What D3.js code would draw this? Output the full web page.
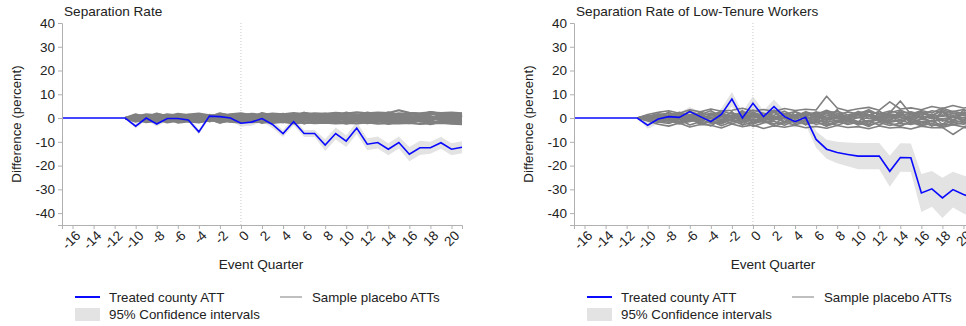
<!DOCTYPE html>
<html>
<head>
<meta charset="utf-8">
<script src="https://cdn.jsdelivr.net/npm/d3@7"></script>
<style>
  body { margin: 0; background: #fff; }
  svg { display: block; font-family: "Liberation Sans", Arial, sans-serif; }
</style>
</head>
<body>
<div id="chart"></div>
<script>
// event quarters shown on the x axis
const quarters = [-17,-16,-15,-14,-13,-12,-11,-10,-9,-8,-7,-6,-5,-4,-3,-2,-1,0,1,2,3,4,5,6,7,8,9,10,11,12,13,14,15,16,17,18,19,20,21];
const placeboQuarters = [-11,-10,-9,-8,-7,-6,-5,-4,-3,-2,-1,0,1,2,3,4,5,6,7,8,9,10,11,12,13,14,15,16,17,18,19,20,21];
const xTicks = [-16,-14,-12,-10,-8,-6,-4,-2,0,2,4,6,8,10,12,14,16,18,20];
const yTicks = [40,30,20,10,0,-10,-20,-30,-40];

// left panel: separation rate
const attLeft = [0,0,0,0,0,0,0, -3.4,0,-2.5,-0.2,-0.2,-0.8,-5.8,0.8,0.6,0,
  -2.2,-1.7,-0.2,-2.7,-6.5,-1.5,-6.5,-6.5,-11.4,-6.5,-9.7,-4.2,-11,-10.3,-13.1,-10.3,-15.2,-12.5,-12.5,-10.4,-13.1,-12.3];
const ciLeft = [0,0,0,0,0,0,0, 1,1,1,1,1,1,1,1,1,1,
  1.5,1.5,1.5,1.5,1.5,1.5,1.5,1.5, 2.5,2.5,2.5,2.5,2.5,2.5,2.5,2.5,3,3,2.5,2.5,2.5,2.5];
const placeboLeft = [
  [0,0.8,1.2,0.5,1.6,1.0,0.4,1.3,0.9,1.5,0.6,1.1,1.8,1.4,1.9,1.6,2.1,1.7,2.0,1.8,2.2,1.9,2.4,2.0,2.3,2.1,3.3,2.2,2.0,2.4,2.1,2.3,2.0],
  [0,-0.9,-1.4,-0.6,-1.8,-1.1,-0.5,-1.6,-1.0,-1.3,-0.7,-1.2,-1.7,-1.5,-2.0,-1.6,-2.2,-1.8,-2.1,-1.9,-2.3,-2.0,-2.2,-1.8,-2.4,-2.1,-2.3,-2.0,-2.5,-2.2,-2.0,-2.4,-2.6],
  [0,0.3,-0.5,1.0,0.2,-0.8,1.2,0.4,-0.3,0.9,1.4,0.2,-0.6,1.1,0.5,-0.9,1.3,0.7,-0.4,1.5,0.3,-1.0,1.2,0.6,-0.5,1.7,0.2,-0.8,1.4,0.8,-0.3,1.1,0.5],
  [0,-0.4,0.7,-1.1,-0.2,0.9,-1.3,-0.5,0.6,-0.9,-1.5,0.4,0.9,-1.2,-0.3,1.0,-1.4,-0.6,0.8,-1.6,-0.2,1.2,-1.3,-0.7,0.9,-1.7,-0.4,1.0,-1.5,-0.9,0.6,-1.2,-0.8],
  [0,1.3,0.6,1.7,0.9,0.3,1.5,1.9,1.1,0.5,1.6,2.0,1.2,0.8,1.7,1.3,0.9,2.2,1.4,1.0,1.8,1.5,1.1,2.3,1.6,1.2,2.0,1.7,1.3,2.5,1.8,1.4,1.9],
  [0,-1.2,-0.3,-1.6,-0.8,-0.2,-1.4,-1.8,-0.9,-0.4,-1.5,-1.9,-1.0,-0.6,-1.6,-1.2,-0.7,-2.1,-1.3,-0.8,-1.8,-1.4,-0.9,-2.2,-1.5,-1.0,-1.9,-1.6,-1.1,-2.3,-1.7,-1.2,-1.8],
  [0,0.1,0.9,0.4,-0.6,0.7,0.2,-0.4,1.1,0.3,-0.2,0.8,0.5,0.1,0.7,0.9,0.3,0.6,1.0,0.2,0.8,0.4,0.9,0.1,0.7,1.1,0.3,0.8,0.5,0.2,0.9,0.6,0.3],
  [0,-0.2,-1.0,-0.3,0.4,-0.7,-0.1,0.3,-1.1,-0.2,0.2,-0.8,-0.4,-0.1,-0.6,-0.9,-0.2,-0.5,-1.0,-0.3,-0.7,-0.4,-0.9,-0.2,-0.6,-1.0,-0.3,-0.8,-0.5,-0.2,-0.9,-0.6,-0.4],
  [0,0.5,1.6,1.1,0.7,1.8,1.3,0.9,0.6,1.7,1.2,0.8,1.5,1.0,1.3,0.9,1.6,1.2,0.8,1.4,1.1,1.7,1.3,1.0,1.5,1.2,0.9,1.6,1.3,1.7,1.2,1.5,1.0],
  [0,-0.6,-1.7,-1.2,-0.5,-1.9,-1.4,-0.8,-0.4,-1.8,-1.1,-0.7,-1.4,-1.0,-1.3,-0.8,-1.5,-1.1,-0.9,-1.4,-1.2,-1.6,-1.0,-1.3,-1.5,-1.1,-0.8,-1.6,-1.2,-1.8,-1.3,-1.5,-1.9],
  [0,0.0,0.3,-0.2,0.6,0.1,-0.4,0.5,0.0,-0.3,0.4,-0.1,0.2,0.4,-0.2,0.3,0.0,0.5,-0.1,0.2,0.4,-0.3,0.1,0.3,-0.2,0.4,0.1,-0.1,0.3,0.5,0.0,0.2,-0.3],
  [0,0.9,-0.8,1.4,-1.2,0.6,-0.5,1.0,-1.4,0.7,0.2,-1.0,1.1,-0.3,0.5,-0.7,1.2,-0.9,0.4,-0.2,1.0,-1.1,0.6,-0.4,1.3,-0.6,0.3,-1.2,0.8,-0.1,1.4,-0.8,0.9],
  [0,1.6,0.2,1.9,0.6,1.4,-0.2,1.7,0.4,2.0,0.9,1.5,0.3,2.1,1.0,1.8,0.5,2.2,1.2,1.9,0.7,2.3,1.4,1.8,0.9,2.4,1.3,2.0,1.0,2.5,1.5,2.1,1.6],
  [0,-1.5,-0.1,-1.9,-0.7,-1.3,0.1,-1.7,-0.5,-2.0,-0.8,-1.4,-0.3,-2.1,-1.1,-1.7,-0.6,-2.3,-1.2,-1.8,-0.8,-2.4,-1.3,-1.9,-1.0,-2.5,-1.4,-2.1,-1.1,-2.6,-1.5,-2.2,-1.7],
  [0,0.6,-0.2,0.8,0.3,-0.4,0.9,0.1,-0.5,0.7,0.2,0.9,-0.3,0.6,0.1,-0.6,0.8,0.3,-0.2,0.7,-0.5,0.6,0.0,-0.4,0.8,0.2,-0.6,0.5,0.1,-0.3,0.7,-0.1,0.4],
  [0,-1.1,1.0,-0.7,1.2,-1.3,0.5,-1.0,1.3,-0.8,0.6,-1.2,1.1,-0.5,0.9,-1.4,0.4,-0.9,1.2,-1.1,0.7,-0.6,1.4,-1.3,0.3,-1.0,1.5,-0.7,0.6,-1.5,1.0,-0.4,1.2]
];

// right panel: low-tenure workers
const attRight = [0,0,0,0,0,0,0, -3,-0.4,0.6,0.3,2.7,0.6,-1.5,1.5,8,0,
  6.2,0.6,4.8,0.6,-1.5,0.3,-9,-13.1,-14.5,-15.3,-16,-16,-16,-22.4,-16.6,-16.7,-31.5,-29.8,-33.6,-30.1,-32.2,-33.6];
const ciRight = [0,0,0,0,0,0,0, 1.5,2,2,2,2,2,2,2.5,3,2.5,
  3,2.5,3,2.5,2.5,3, 3.5,4,4.5,5,5.5,5.5,5.5,6.5,6,6,8,7.5,8.5,7.5,8,8];
const placeboRight = [
  [0,1.5,2.4,3.1,2.0,3.5,2.6,3.8,2.9,3.3,4.1,3.0,3.6,2.8,4.0,3.2,3.7,3.4,9.2,4.2,3.1,3.9,4.5,3.3,6.8,3.8,4.3,3.5,4.9,4.0,5.3,4.2,4.7],
  [0,-1.2,-2.6,-3.4,-2.1,-3.8,-2.7,-3.0,-4.2,-2.5,-3.6,-2.9,-4.4,-3.2,-3.9,-3.0,-4.1,-3.5,-4.3,-3.1,-4.0,-3.6,-4.5,-3.3,-4.2,-3.8,-4.6,-3.4,-4.1,-3.9,-6.9,-4.0,-4.4],
  [0,0.6,1.8,0.9,2.4,1.3,0.7,2.1,1.5,0.8,2.6,1.9,1.1,2.3,1.6,2.8,1.2,2.5,1.9,2.9,1.4,2.2,2.7,1.8,3.0,2.0,2.6,1.5,3.1,2.3,2.8,1.9,2.5],
  [0,-0.8,-1.9,-1.0,-2.5,-1.4,-0.6,-2.2,-1.7,-0.9,-2.8,-2.0,-1.2,-2.4,-1.8,-2.9,-1.3,-2.6,-2.0,-3.0,-1.5,-2.3,-2.8,-1.9,-3.1,-2.1,-2.7,-1.6,-3.2,-2.4,-2.9,-2.0,-2.6],
  [0,0.2,-0.9,1.4,-0.3,0.8,-1.2,1.6,0.1,-0.7,3.2,-1.8,0.9,-0.5,1.3,-0.2,0.6,-1.0,1.1,0.3,-0.8,1.5,0.0,-0.6,1.2,0.4,-1.1,0.9,-0.3,1.4,0.2,-0.9,0.7],
  [0,-0.4,1.1,-1.3,0.5,-0.9,1.5,-0.2,-1.4,0.9,-0.6,1.2,-1.0,0.4,-1.5,0.8,-0.3,1.3,-0.8,0.6,-1.2,0.2,1.0,-1.4,0.5,-0.7,1.4,-0.2,0.9,-1.3,0.6,-0.5,1.1],
  [0,1.0,0.3,2.2,1.2,-0.2,2.6,0.9,3.0,1.7,0.4,2.4,1.0,3.3,1.8,0.7,2.6,1.3,3.1,2.0,0.8,2.8,1.5,0.6,2.2,3.4,1.4,2.7,0.9,3.6,1.9,2.4,1.2],
  [0,-1.0,-0.2,-2.0,-1.3,0.2,-2.7,-1.1,-3.2,-1.6,-0.5,-2.5,-1.1,-3.4,-1.9,-0.8,-2.7,-1.4,-3.3,-2.0,-0.9,-2.9,-1.6,-0.7,-2.3,-3.5,-1.5,-2.8,-1.0,-3.7,-2.0,-2.6,-1.4],
  [0,0.4,0.9,-0.3,1.7,0.5,-0.1,1.0,2.0,0.3,-0.4,0.8,1.9,0.6,0.1,1.4,0.7,2.2,0.2,1.1,0.5,1.8,0.9,0.3,1.5,0.8,2.1,0.4,1.2,0.7,1.9,1.0,0.6],
  [0,-0.3,-1.1,0.4,-1.6,-0.6,0.2,-1.2,-2.1,-0.4,0.5,-0.9,-1.8,-0.7,-0.1,-1.5,-0.8,-2.0,-0.3,-1.2,-0.6,-1.9,-1.0,-0.4,-1.6,-0.9,-2.2,-0.5,-1.3,-0.8,-2.0,-1.1,-0.7],
  [0,0.9,1.5,2.0,0.7,2.8,1.4,3.1,0.6,2.2,1.0,3.4,2.0,1.2,2.9,0.8,2.4,1.5,3.3,1.1,2.6,1.7,3.5,1.3,2.3,7.2,1.6,3.2,2.1,4.2,2.7,3.6,2.2],
  [0,-0.7,-1.6,-2.3,-0.5,-2.9,-1.5,-3.3,-0.6,-2.4,-1.1,-3.5,-2.1,-1.3,-3.0,-0.9,-2.5,-1.6,-3.4,-1.2,-2.7,-1.8,-3.6,-1.4,-2.4,-3.1,-1.7,-3.3,-2.2,-4.0,-2.8,-3.7,-2.3],
  [0,0.1,0.5,0.0,-0.4,0.6,0.2,-0.3,0.7,-0.1,0.4,0.0,0.5,-0.2,0.3,0.6,-0.1,0.4,0.1,-0.3,0.5,0.2,-0.2,0.6,0.0,0.3,-0.1,0.5,0.2,-0.3,0.4,0.1,0.0],
  [0,1.2,-0.5,2.6,-1.8,3.4,-2.4,1.9,-0.9,2.8,-3.0,1.5,-1.6,3.2,-2.2,0.7,-2.9,2.5,-1.3,3.6,-2.6,1.2,-3.1,2.9,-1.0,3.3,-2.5,1.8,-3.4,2.7,-1.9,3.5,-2.8],
  [0,0.5,1.2,-0.6,2.0,0.9,-1.0,1.6,2.4,0.2,-0.8,1.8,0.7,2.6,-0.4,1.3,2.1,0.0,2.8,1.1,-0.6,2.2,1.0,2.9,0.4,1.7,-0.3,2.5,1.2,3.0,0.6,1.9,0.8],
  [0,-0.6,-1.3,0.5,-2.1,-1.0,0.8,-1.7,-2.5,-0.3,0.9,-1.9,-0.8,-2.7,0.3,-1.4,-2.2,0.1,-2.9,-1.2,0.5,-2.3,-1.1,-3.0,-0.5,-1.8,0.2,-2.6,-1.3,-3.1,-0.7,-2.0,-0.9],
  [0,1.0,-1.5,0.6,1.9,-0.7,2.3,-1.6,0.8,1.2,-2.0,2.5,-0.4,0.9,-1.7,2.7,-0.9,1.5,-2.2,2.0,0.4,-1.8,2.8,-0.6,1.4,-2.4,2.2,0.3,-1.5,2.9,-1.0,1.6,-2.0],
  [0,-0.9,1.4,-0.5,-1.8,0.8,-2.2,1.5,-0.7,-1.1,2.1,-2.4,0.5,-0.8,1.8,-2.6,1.0,-1.4,2.3,-1.9,-0.3,1.9,-2.7,0.7,-1.3,2.5,-2.1,-0.2,1.6,-2.8,1.1,-1.5,2.1],
  [0,0.3,0.8,1.1,0.4,1.5,0.9,0.2,1.3,0.7,1.6,0.5,1.1,0.3,1.7,0.9,1.4,0.6,1.9,1.0,0.4,1.6,1.2,0.7,1.8,1.1,0.5,1.7,1.3,0.8,2.0,1.2,1.5],
  [0,-0.2,-0.7,-1.0,-0.3,-1.4,-0.8,-0.1,-1.2,-0.6,-1.5,-0.4,-1.0,-0.2,-1.6,-0.8,-1.3,-0.5,-1.8,-0.9,-0.3,-1.5,-1.1,-0.6,-1.7,-1.0,-0.4,-1.6,-1.2,-0.7,-1.9,-1.1,-1.4]
];

const W = 966, H = 326;
const svg = d3.select('#chart').append('svg')
  .attr('width', W).attr('height', H);

const y = d3.scaleLinear().domain([-45, 40]).range([225, 23]);
const ink = '#222';

function panel(left, title, att, ci, placebos, plWidth) {
  const x = d3.scaleLinear().domain([-17, 21]).range([left, left + 400]);
  const g = svg.append('g');

  // CI band
  const band = quarters.map((q, i) => ({ q, lo: att[i] - ci[i], hi: att[i] + ci[i] }));
  g.append('path')
    .datum(band.filter(d => d.q >= -11))
    .attr('fill', '#e3e3e3')
    .attr('d', d3.area().x(d => x(d.q)).y0(d => y(d.lo)).y1(d => y(d.hi)));

  // zero event line
  g.append('line')
    .attr('x1', x(0)).attr('x2', x(0))
    .attr('y1', y(40)).attr('y2', y(-45))
    .attr('stroke', '#c8c8c8').attr('stroke-dasharray', '1,2');

  // placebo lines
  const pl = d3.line().x((d, i) => x(placeboQuarters[i])).y(d => y(d));
  g.append('g').selectAll('path')
    .data(placebos)
    .enter().append('path')
      .attr('d', pl)
      .attr('fill', 'none')
      .attr('stroke', '#808080')
      .attr('stroke-linejoin', 'round')
      .attr('stroke-width', plWidth);

  // treated ATT
  g.append('path')
    .datum(att)
    .attr('fill', 'none')
    .attr('stroke', '#0a0aff')
    .attr('stroke-width', 1.6)
    .attr('d', d3.line().x((d, i) => x(quarters[i])).y(d => y(d)));

  // axes
  const ya = g.append('g')
    .attr('transform', `translate(${left},0)`)
    .call(d3.axisLeft(y).tickValues(yTicks).tickSize(4).tickPadding(3));
  const xa = g.append('g')
    .attr('transform', `translate(0,225)`)
    .call(d3.axisBottom(x).tickValues(xTicks).tickSize(4));
  [ya, xa].forEach(a => {
    a.select('.domain').attr('stroke', '#b0b0b0');
    a.selectAll('.tick line').attr('stroke', '#b0b0b0');
    a.selectAll('text').attr('fill', ink).style('font-size', '13.5px');
  });
  xa.selectAll('text')
    .text(d => String(d))
    .attr('text-anchor', 'end')
    .attr('dy', '0.35em')
    .attr('y', 0)
    .attr('transform', 'translate(5,8) rotate(-45)');
  ya.selectAll('text').text(d => String(d));

  g.append('text')
    .attr('x', left + 2).attr('y', 16)
    .style('font-size', '13.6px').attr('fill', ink)
    .text(title);

  g.append('text')
    .attr('transform', `translate(${left - 41},124) rotate(-90)`)
    .attr('text-anchor', 'middle')
    .style('font-size', '13.3px').attr('fill', ink)
    .text('Difference (percent)');

  g.append('text')
    .attr('x', left + 199).attr('y', 269)
    .attr('text-anchor', 'middle')
    .style('font-size', '13.6px').attr('fill', ink)
    .text('Event Quarter');

  // legend
  const lg = g.append('g').attr('transform', `translate(${left + 13},0)`);
  lg.append('line').attr('x1', 0).attr('x2', 25).attr('y1', 297).attr('y2', 297)
    .attr('stroke', '#0a0aff').attr('stroke-width', 2);
  lg.append('text').attr('x', 34).attr('y', 301.5).style('font-size', '13.3px').attr('fill', ink)
    .text('Treated county ATT');
  lg.append('line').attr('x1', 205).attr('x2', 227).attr('y1', 297).attr('y2', 297)
    .attr('stroke', '#aaa').attr('stroke-width', 1.5);
  lg.append('text').attr('x', 237).attr('y', 301.5).style('font-size', '13.3px').attr('fill', ink)
    .text('Sample placebo ATTs');
  lg.append('rect').attr('x', 0).attr('y', 308).attr('width', 25).attr('height', 13)
    .attr('fill', '#e3e3e3');
  lg.append('text').attr('x', 34).attr('y', 318.5).style('font-size', '13.3px').attr('fill', ink)
    .text('95% Confidence intervals');
}

panel(62, 'Separation Rate', attLeft, ciLeft, placeboLeft, 2.2);
panel(574, 'Separation Rate of Low-Tenure Workers', attRight, ciRight, placeboRight, 1.6);
</script>
</body>
</html>
